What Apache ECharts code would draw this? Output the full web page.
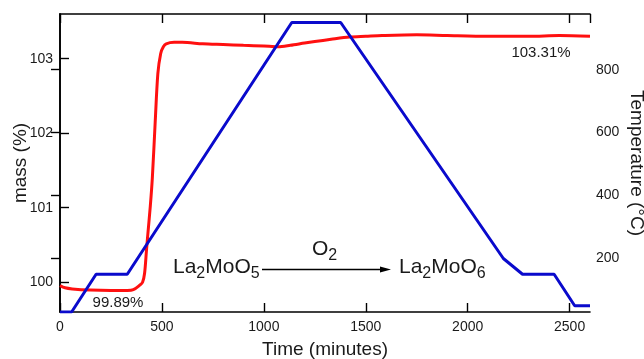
<!DOCTYPE html>
<html>
<head>
<meta charset="utf-8">
<script src="https://cdn.jsdelivr.net/npm/echarts@6/dist/echarts.min.js"></script>
<style>
html,body{margin:0;padding:0;background:#fff;}
#c{width:644px;height:359px;}
</style>
</head>
<body>
<div id="c"></div>
<script>
// ---- data ----
var massTime  = [0, 25, 60, 150, 250, 330, 360, 391, 405, 415, 424, 432, 443, 453, 467, 480, 494, 507, 521, 560, 600, 700, 800, 900, 1000, 1070, 1130, 1200, 1250, 1330, 1420, 1500, 1580, 1750, 1900, 2100, 2300, 2450, 2600];
var massValue = [99.955, 99.925, 99.91, 99.895, 99.89, 99.89, 99.9, 99.96, 100.0, 100.12, 100.42, 100.68, 101.02, 101.4, 102.15, 102.8, 103.07, 103.16, 103.2, 103.22, 103.22, 103.2, 103.19, 103.18, 103.17, 103.16, 103.18, 103.21, 103.23, 103.26, 103.29, 103.30, 103.31, 103.32, 103.31, 103.30, 103.30, 103.31, 103.30];
var tempTime  = [0, 57, 177, 330, 1137, 1377, 2175, 2269, 2424, 2525, 2600];
var tempValue = [30, 30, 150, 150, 950, 950, 200, 150, 150, 50, 50];
var minLabel = '99.89%';
var maxLabel = '103.31%';

function zip(a, b) { return a.map(function (v, i) { return [v, b[i]]; }); }

var FONT = 'Liberation Sans, Arial, sans-serif';
var TXT = '#1a1a1a';
var chart = echarts.init(document.getElementById('c'), null, {renderer: 'canvas'});

function axisLine() { return {show: true, lineStyle: {color: '#000', width: 1.6}}; }
function axisTick() { return {show: true, inside: true, length: 9, lineStyle: {color: '#000', width: 1.4}}; }
function labelStyle(extra) { return Object.assign({color: TXT, fontFamily: FONT, fontSize: 14, formatter: function (v) { return String(v); }}, extra); }
function nameStyle() { return {color: TXT, fontFamily: FONT, fontSize: 19}; }

// chemical formula text with subscripts, laid out as separate text pieces
var measureCtx = document.createElement('canvas').getContext('2d');
function formula(parts, left, baseline) {
  var out = [];
  var x = left;
  parts.forEach(function (p) {
    var size = p[1] ? 16 : 21;
    var font = size + 'px ' + FONT;
    measureCtx.font = font;
    var base = baseline + (p[1] ? 4 : 0);
    out.push({type: 'text', z: 10, style: {x: x, y: base - 0.35 * size, text: p[0], font: font, fill: TXT, align: 'left', verticalAlign: 'middle'}});
    x += measureCtx.measureText(p[0]).width;
  });
  return out;
}

var graphics = [
  {type: 'text', z: 10, style: {x: 118, y: 303, text: minLabel, align: 'center', verticalAlign: 'middle', font: '15px ' + FONT, fill: TXT}},
  {type: 'text', z: 10, style: {x: 541, y: 53, text: maxLabel, align: 'center', verticalAlign: 'middle', font: '15px ' + FONT, fill: TXT}},
  {type: 'line', z: 10, shape: {x1: 262, y1: 269.5, x2: 382, y2: 269.5}, style: {stroke: '#000', lineWidth: 1.3}},
  {type: 'polygon', z: 10, shape: {points: [[391, 269.5], [380, 266.5], [380, 272.5]]}, style: {fill: '#000'}}
].concat(
  formula([['La', 0], ['2', 1], ['MoO', 0], ['5', 1]], 173, 275),
  formula([['La', 0], ['2', 1], ['MoO', 0], ['6', 1]], 399, 275),
  formula([['O', 0], ['2', 1]], 312, 257)
);

chart.setOption({
  animation: false,
  backgroundColor: '#fff',
  grid: {left: 60, right: 54, top: 14, bottom: 47, containLabel: false, outerBoundsMode: 'none'},
  xAxis: [{
    type: 'value', min: 0, max: 2600, interval: 500, position: 'bottom',
    name: 'Time (minutes)', nameLocation: 'middle', nameGap: 28, nameMoveOverlap: false, nameTextStyle: nameStyle(),
    axisLine: axisLine(), axisTick: axisTick(),
    axisLabel: labelStyle({margin: 8, showMaxLabel: false}),
    splitLine: {show: false}
  }, {
    type: 'value', min: 0, max: 2600, interval: 500, position: 'top',
    axisLine: axisLine(), axisTick: axisTick(), axisLabel: {show: false}, splitLine: {show: false}
  }],
  yAxis: [{
    type: 'value', min: 99.6, max: 103.6, position: 'left',
    name: 'mass (%)', nameLocation: 'middle', nameGap: 30, nameMoveOverlap: false, nameTextStyle: nameStyle(),
    axisLine: axisLine(), axisTick: axisTick(),
    axisLabel: labelStyle({margin: 7, showMinLabel: false, showMaxLabel: false}),
    splitLine: {show: false}
  }, {
    type: 'value', min: 30, max: 977, position: 'right',
    name: 'Temperature (°C)', nameLocation: 'middle', nameGap: 37, nameRotate: -90, nameMoveOverlap: false, nameTextStyle: nameStyle(),
    axisLine: axisLine(), axisTick: axisTick(),
    axisLabel: labelStyle({margin: 6, showMinLabel: false, showMaxLabel: false}),
    splitLine: {show: false}
  }],
  series: [{
    type: 'line', xAxisIndex: 0, yAxisIndex: 1, data: zip(tempTime, tempValue),
    showSymbol: false, lineStyle: {color: '#0a0acc', width: 3}, z: 3
  }, {
    type: 'line', xAxisIndex: 0, yAxisIndex: 0, data: zip(massTime, massValue),
    showSymbol: false, smooth: 0.3, lineStyle: {color: '#ff1010', width: 3}, z: 2
  }],
  graphic: graphics
});
</script>
</body>
</html>
